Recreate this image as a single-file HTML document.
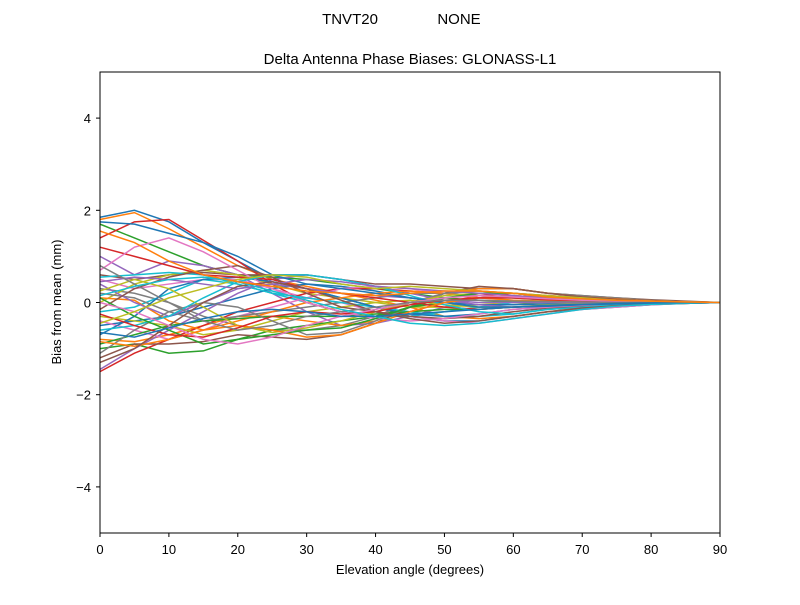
<!DOCTYPE html>
<html><head><meta charset="utf-8"><style>
body{margin:0;background:#fff}
svg text{font-family:"Liberation Sans","DejaVu Sans",sans-serif;fill:#000}
</style></head><body>
<svg id="chart" width="800" height="600" viewBox="0 0 800 600" xmlns="http://www.w3.org/2000/svg">
<rect width="800" height="600" fill="#fff"/>
<text x="350" y="24" font-size="15" text-anchor="middle">TNVT20</text>
<text x="459" y="24" font-size="15" text-anchor="middle">NONE</text>
<text x="410" y="64" font-size="15" text-anchor="middle">Delta Antenna Phase Biases: GLONASS-L1</text>
<g id="lines"></g>
<rect x="100" y="72" width="620" height="461" fill="none" stroke="#000" stroke-width="1"/>
<g id="xt"></g>
<g id="yt"></g>
<text x="410" y="574" font-size="13" text-anchor="middle">Elevation angle (degrees)</text>
<text x="0" y="0" font-size="13" text-anchor="middle" transform="translate(61,302) rotate(-90)">Bias from mean (mm)</text>
</svg>
<script>
const elevations=[0,5,10,15,20,25,30,35,40,45,50,55,60,65,70,75,80,85,90];
const xTicks=[0,10,20,30,40,50,60,70,80,90];
const yTicks=[-4,-2,0,2,4];
const s1=[1.85,2.0,1.75,1.3,0.9,0.5,0.3,0.1,-0.1,-0.3,-0.4,-0.4,-0.3,-0.2,-0.15,-0.1,-0.05,-0.02,0];
const s2=[1.8,1.95,1.6,1.2,0.8,0.5,0.35,0.2,0.05,-0.1,-0.3,-0.35,-0.3,-0.2,-0.12,-0.08,-0.04,-0.02,0];
const s3=[1.7,1.4,1.1,0.8,0.6,0.55,0.5,0.4,0.3,0.2,0.1,0.05,0,-0.05,-0.05,-0.03,-0.02,-0.01,0];
const s4=[1.4,1.75,1.8,1.35,0.9,0.4,0.0,-0.2,-0.3,-0.2,0.0,0.15,0.2,0.15,0.1,0.05,0.03,0.01,0];
const s5=[1.0,0.6,0.9,0.8,0.6,0.2,-0.2,-0.5,-0.45,-0.3,-0.1,0.1,0.15,0.1,0.08,0.05,0.02,0.01,0];
const s6=[0.6,0.5,0.6,0.65,0.6,0.6,0.6,0.5,0.4,0.4,0.35,0.3,0.3,0.2,0.15,0.1,0.06,0.03,0];
const s7=[0.5,0.3,0.4,0.5,0.5,0.3,0.1,0.0,-0.2,-0.3,-0.4,-0.45,-0.35,-0.25,-0.15,-0.1,-0.05,-0.02,0];
const s8=[0.3,0.2,0.0,-0.3,-0.5,-0.6,-0.6,-0.5,-0.3,0.0,0.2,0.3,0.3,0.2,0.15,0.1,0.05,0.02,0];
const s9=[0.0,0.4,0.6,0.7,0.6,0.4,0.2,0.1,0.0,-0.1,-0.1,-0.05,0,0,0,0,0,0,0];
const s10=[-0.2,-0.1,0.2,0.5,0.4,0.2,0.0,-0.2,-0.3,-0.3,-0.2,-0.1,0,0.02,0.03,0.02,0.01,0,0];
const s11=[-0.5,-0.4,-0.3,-0.1,0.1,0.3,0.4,0.35,0.25,0.1,0.0,-0.05,-0.05,-0.03,-0.02,-0.01,0,0,0];
const s12=[-0.8,-0.85,-0.7,-0.5,-0.3,-0.3,-0.4,-0.5,-0.4,-0.1,0.2,0.3,0.3,0.2,0.12,0.08,0.04,0.02,0];
const s13=[-1.0,-0.9,-1.1,-1.05,-0.8,-0.6,-0.5,-0.4,-0.3,-0.1,0.0,0.1,0.1,0.08,0.05,0.03,0.02,0.01,0];
const s14=[-1.5,-1.1,-0.8,-0.5,-0.2,0.0,0.2,0.3,0.3,0.25,0.2,0.15,0.1,0.07,0.05,0.03,0.02,0.01,0];
const s15=[-1.45,-1.0,-0.6,-0.2,0.2,0.5,0.6,0.5,0.35,0.2,0.05,-0.05,-0.1,-0.08,-0.05,-0.03,-0.02,-0.01,0];
const s16=[-1.2,-0.9,-0.9,-0.85,-0.7,-0.75,-0.8,-0.7,-0.45,-0.1,0.2,0.35,0.3,0.2,0.12,0.07,0.04,0.02,0];
const s17=[-0.4,-0.6,-0.8,-0.6,-0.3,-0.1,0.1,0.3,0.35,0.3,0.2,0.1,0.05,0.02,0.01,0,0,0,0];
const s18=[0.2,0.1,-0.2,-0.4,-0.3,-0.2,-0.1,0.0,0.1,0.2,0.2,0.15,0.1,0.05,0.03,0.02,0.01,0,0];
const s19=[-0.3,-0.4,-0.5,-0.7,-0.6,-0.4,-0.2,-0.1,0.0,0.05,-0.05,-0.1,-0.1,-0.05,-0.03,-0.02,-0.01,0,0];
const s20=[0.55,0.6,0.65,0.6,0.4,0.2,0.1,0.0,-0.1,-0.2,-0.3,-0.3,-0.25,-0.15,-0.1,-0.05,-0.03,-0.01,0];
const s21=[-0.7,-0.3,0.3,0.5,0.55,0.45,0.3,0.1,-0.1,-0.25,-0.3,-0.25,-0.15,-0.1,-0.06,-0.04,-0.02,-0.01,0];
const s22=[0.1,0.05,-0.4,-0.6,-0.4,-0.2,0.0,0.1,0.2,0.25,0.2,0.1,0.05,0.03,0.02,0.01,0,0,0];
const s23=[-0.9,-0.7,-0.5,-0.4,-0.35,-0.3,-0.3,-0.3,-0.25,-0.2,-0.15,-0.15,-0.1,-0.07,-0.05,-0.03,-0.02,-0.01,0];
const s24=[1.2,1.0,0.8,0.6,0.55,0.5,0.3,0.2,0.1,0.0,-0.1,-0.15,-0.1,-0.07,-0.05,-0.03,-0.02,-0.01,0];
const s25=[0.4,0.0,-0.3,0.0,0.3,0.4,0.3,0.2,0.15,0.1,0.05,0.0,0,0,0,0,0,0,0];
const s26=[-0.15,0.3,0.55,0.7,0.8,0.55,0.2,-0.1,-0.2,-0.3,-0.35,-0.3,-0.2,-0.12,-0.08,-0.05,-0.03,-0.01,0];
const s27=[0.7,1.2,1.4,1.1,0.7,0.3,0.0,-0.2,-0.35,-0.4,-0.35,-0.25,-0.15,-0.1,-0.06,-0.04,-0.02,-0.01,0];
const s28=[-1.1,-0.6,-0.2,0.0,-0.1,-0.4,-0.7,-0.65,-0.4,-0.1,0.2,0.25,0.2,0.12,0.08,0.05,0.03,0.01,0];
const s29=[0.25,0.5,0.3,-0.1,-0.5,-0.65,-0.55,-0.4,-0.2,0.0,0.15,0.2,0.2,0.15,0.1,0.05,0.03,0.01,0];
const s30=[-0.6,-0.5,-0.3,0.1,0.45,0.6,0.6,0.5,0.35,0.15,-0.05,-0.2,-0.25,-0.15,-0.1,-0.05,-0.03,-0.01,0];
const s31=[1.75,1.7,1.5,1.3,1.0,0.6,0.4,0.3,0.2,0.1,0.0,-0.1,-0.1,-0.08,-0.05,-0.03,-0.02,-0.01,0];
const s32=[-0.85,-0.95,-0.8,-0.6,-0.5,-0.6,-0.75,-0.7,-0.45,-0.2,0.0,0.1,0.15,0.1,0.07,0.04,0.02,0.01,0];
const s33=[0.1,-0.3,-0.6,-0.9,-0.8,-0.7,-0.6,-0.55,-0.35,-0.1,0.1,0.2,0.2,0.12,0.08,0.05,0.02,0.01,0];
const s34=[-0.25,-0.5,-0.7,-0.75,-0.55,-0.3,-0.2,-0.25,-0.2,-0.05,0.05,0.1,0.1,0.06,0.04,0.02,0.01,0,0];
const s35=[0.45,0.55,0.5,0.4,0.3,0.4,0.5,0.45,0.35,0.3,0.25,0.2,0.15,0.1,0.07,0.05,0.03,0.01,0];
const s36=[-1.3,-1.0,-0.5,0.0,0.35,0.45,0.3,0.05,-0.2,-0.35,-0.45,-0.4,-0.3,-0.2,-0.12,-0.07,-0.04,-0.02,0];
const s37=[0.0,-0.2,-0.5,-0.8,-0.9,-0.75,-0.5,-0.3,-0.15,0.0,0.1,0.15,0.12,0.08,0.05,0.03,0.02,0.01,0];
const s38=[0.8,0.4,0.0,-0.4,-0.6,-0.5,-0.3,-0.2,-0.1,0.0,0.05,0.05,0.03,0.02,0.01,0,0,0,0];
const s39=[-0.45,-0.2,0.1,0.3,0.5,0.6,0.55,0.4,0.3,0.35,0.3,0.25,0.2,0.12,0.08,0.05,0.03,0.01,0];
const s40=[0.15,0.35,0.5,0.55,0.45,0.25,0.05,-0.15,-0.3,-0.45,-0.5,-0.45,-0.35,-0.25,-0.15,-0.08,-0.04,-0.02,0];
const s41=[-0.65,-0.75,-0.55,-0.35,-0.2,-0.15,-0.2,-0.3,-0.3,-0.25,-0.2,-0.15,-0.1,-0.06,-0.04,-0.02,-0.01,0,0];
const s42=[1.55,1.3,0.9,0.6,0.45,0.35,0.25,0.2,0.15,0.2,0.25,0.25,0.2,0.12,0.08,0.05,0.03,0.01,0];
const series=[s1,s2,s3,s4,s5,s6,s7,s8,s9,s10,s11,s12,s13,s14,s15,s16,s17,s18,s19,s20,s21,s22,s23,s24,s25,s26,s27,s28,s29,s30,s31,s32,s33,s34,s35,s36,s37,s38,s39,s40,s41,s42];
const colors=['#1f77b4','#ff7f0e','#2ca02c','#d62728','#9467bd','#8c564b','#e377c2','#7f7f7f','#bcbd22','#17becf'];
const NS='http://www.w3.org/2000/svg';
const X=v=>100+v/90*620;
const Y=v=>302.5-v*46.1;
const lines=document.getElementById('lines');
series.forEach((s,i)=>{
  const p=document.createElementNS(NS,'polyline');
  p.setAttribute('points',s.map((v,j)=>X(elevations[j])+','+Y(v)).join(' '));
  p.setAttribute('fill','none');
  p.setAttribute('stroke',colors[i%10]);
  p.setAttribute('stroke-width','1.5');
  
  
  lines.appendChild(p);
});
const xt=document.getElementById('xt');
xTicks.forEach(t=>{
  const l=document.createElementNS(NS,'line');
  l.setAttribute('x1',X(t));l.setAttribute('x2',X(t));l.setAttribute('y1',533);l.setAttribute('y2',537);l.setAttribute('stroke','#000');
  
  
  xt.appendChild(l);
  const tx=document.createElementNS(NS,'text');
  tx.setAttribute('x',X(t));tx.setAttribute('y',554);tx.setAttribute('font-size','13');tx.setAttribute('text-anchor','middle');
  tx.textContent=t;
  
  
  xt.appendChild(tx);
});
const yt=document.getElementById('yt');
yTicks.forEach(t=>{
  const l=document.createElementNS(NS,'line');
  l.setAttribute('x1',96);l.setAttribute('x2',100);l.setAttribute('y1',Y(t));l.setAttribute('y2',Y(t));l.setAttribute('stroke','#000');
  
  
  yt.appendChild(l);
  const tx=document.createElementNS(NS,'text');
  tx.setAttribute('x',91);tx.setAttribute('y',Y(t)+5);tx.setAttribute('font-size','13');tx.setAttribute('text-anchor','end');
  tx.textContent=t<0?'\u2212'+(-t):String(t);
  
  
  yt.appendChild(tx);
});
</script>
</body></html>
